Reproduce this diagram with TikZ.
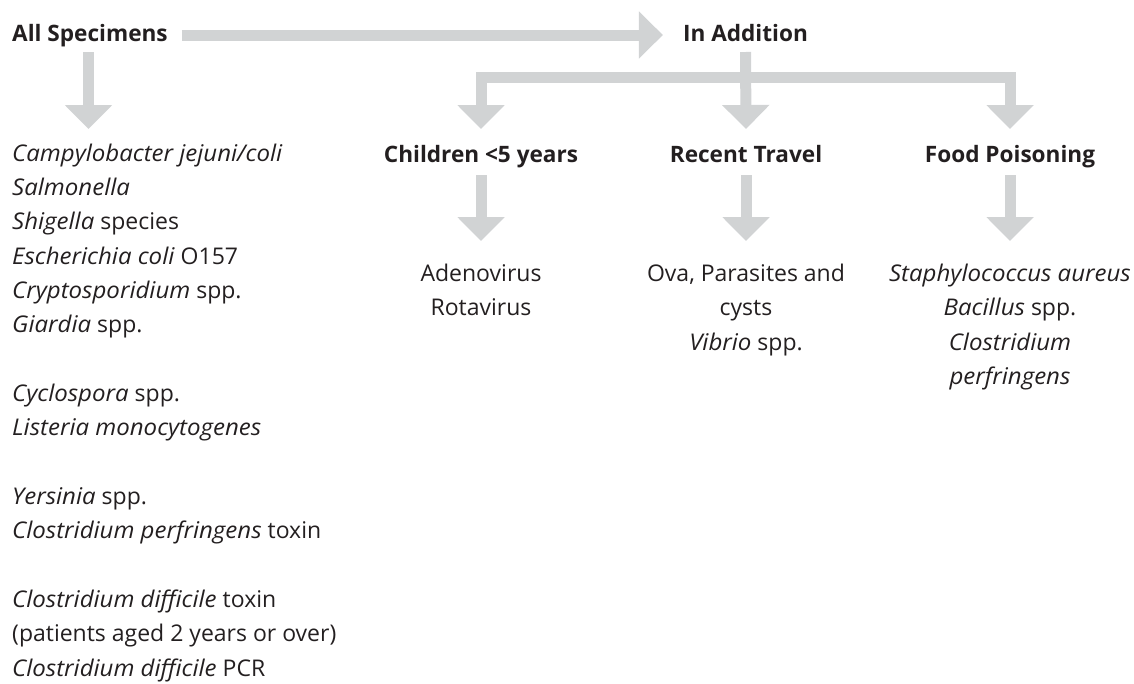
\documentclass[tikz,border=0pt]{standalone}
\usepackage{fontspec}
\setmainfont{Open Sans}[ItalicFeatures={FakeStretch=1.045}]
\usetikzlibrary{arrows.meta}
\definecolor{arrowgray}{HTML}{D1D3D4}
\definecolor{ink}{HTML}{231F20}
\begin{document}
\begin{tikzpicture}[x=1pt,y=-1pt,
  bigarrow/.style={draw=arrowgray, line width=11pt, line join=miter,
    -{Triangle[width=46pt,length=24pt]}},
  heading/.style={font=\fontsize{22.6}{26}\selectfont\bfseries, text=ink,
    inner sep=0pt, anchor=base},
  block/.style={inner sep=0pt, text=ink, anchor=base,
    font=\fontsize{23}{34.6}\selectfont},
]
\useasboundingbox (0,0) rectangle (1134,683);

% headings
\node[heading, anchor=base west] (spec) at (12,41) {All Specimens};
\node[heading] (add) at (745.5,41) {In Addition};
\node[heading] (child) at (481,162) {Children <5 years};
\node[heading] (travel) at (746,162) {Recent Travel};
\node[heading] (food) at (1010,162) {Food Poisoning};

% organism lists
\node[block, anchor=base west, font=\fontsize{23}{34.35}\selectfont] (list) at (12,161)
 {\parbox[t]{420pt}{\raggedright
  \textit{Campylobacter jejuni/coli}\\
  \textit{Salmonella}\\
  \textit{Shigella} species\\
  \textit{Escherichia coli} O157\\
  \textit{Cryptosporidium} spp.\\
  \textit{Giardia} spp.\\[34.35pt]
  \textit{Cyclospora} spp.\\
  \textit{Listeria monocytogenes}\\[34.35pt]
  \textit{Yersinia} spp.\\
  \textit{Clostridium perfringens} toxin\\[34.35pt]
  \textit{Clostridium difficile} toxin\\
  (patients aged 2 years or over)\\
  \textit{Clostridium difficile} PCR}};
\node[block] (viral) at (481,281) {\parbox[t]{260pt}{\centering
  Adenovirus\\Rotavirus}};
\node[block] (ova) at (746,281) {\parbox[t]{260pt}{\centering
  Ova, Parasites and\\cysts\\\textit{Vibrio} spp.}};
\node[block] (bact) at (1010,281) {\parbox[t]{260pt}{\centering
  \textit{Staphylococcus aureus}\\\textit{Bacillus} spp.\\
  \textit{Clostridium}\\\textit{perfringens}}};

% connectors
\draw[bigarrow] ([xshift=14pt]spec.east |- 0,35) -- ([xshift=-20pt]add.west |- 0,35);
\draw[bigarrow] ([xshift=76.5pt]spec.west |- 0,52) -- ([xshift=76.5pt]list.west |- 0,129);
\draw[bigarrow] (add.south |- 0,52) -- (travel.north |- 0,129);
\draw[bigarrow] (add.south |- 0,77.5) -| (child.north |- 0,129);
\draw[bigarrow] (add.south |- 0,77.5) -| (food.north |- 0,129);
\draw[bigarrow] (child.south |- 0,175) -- (viral.north |- 0,241);
\draw[bigarrow] (travel.south |- 0,175) -- (ova.north |- 0,241);
\draw[bigarrow] (food.south |- 0,175) -- (bact.north |- 0,241);
\end{tikzpicture}
\end{document}
